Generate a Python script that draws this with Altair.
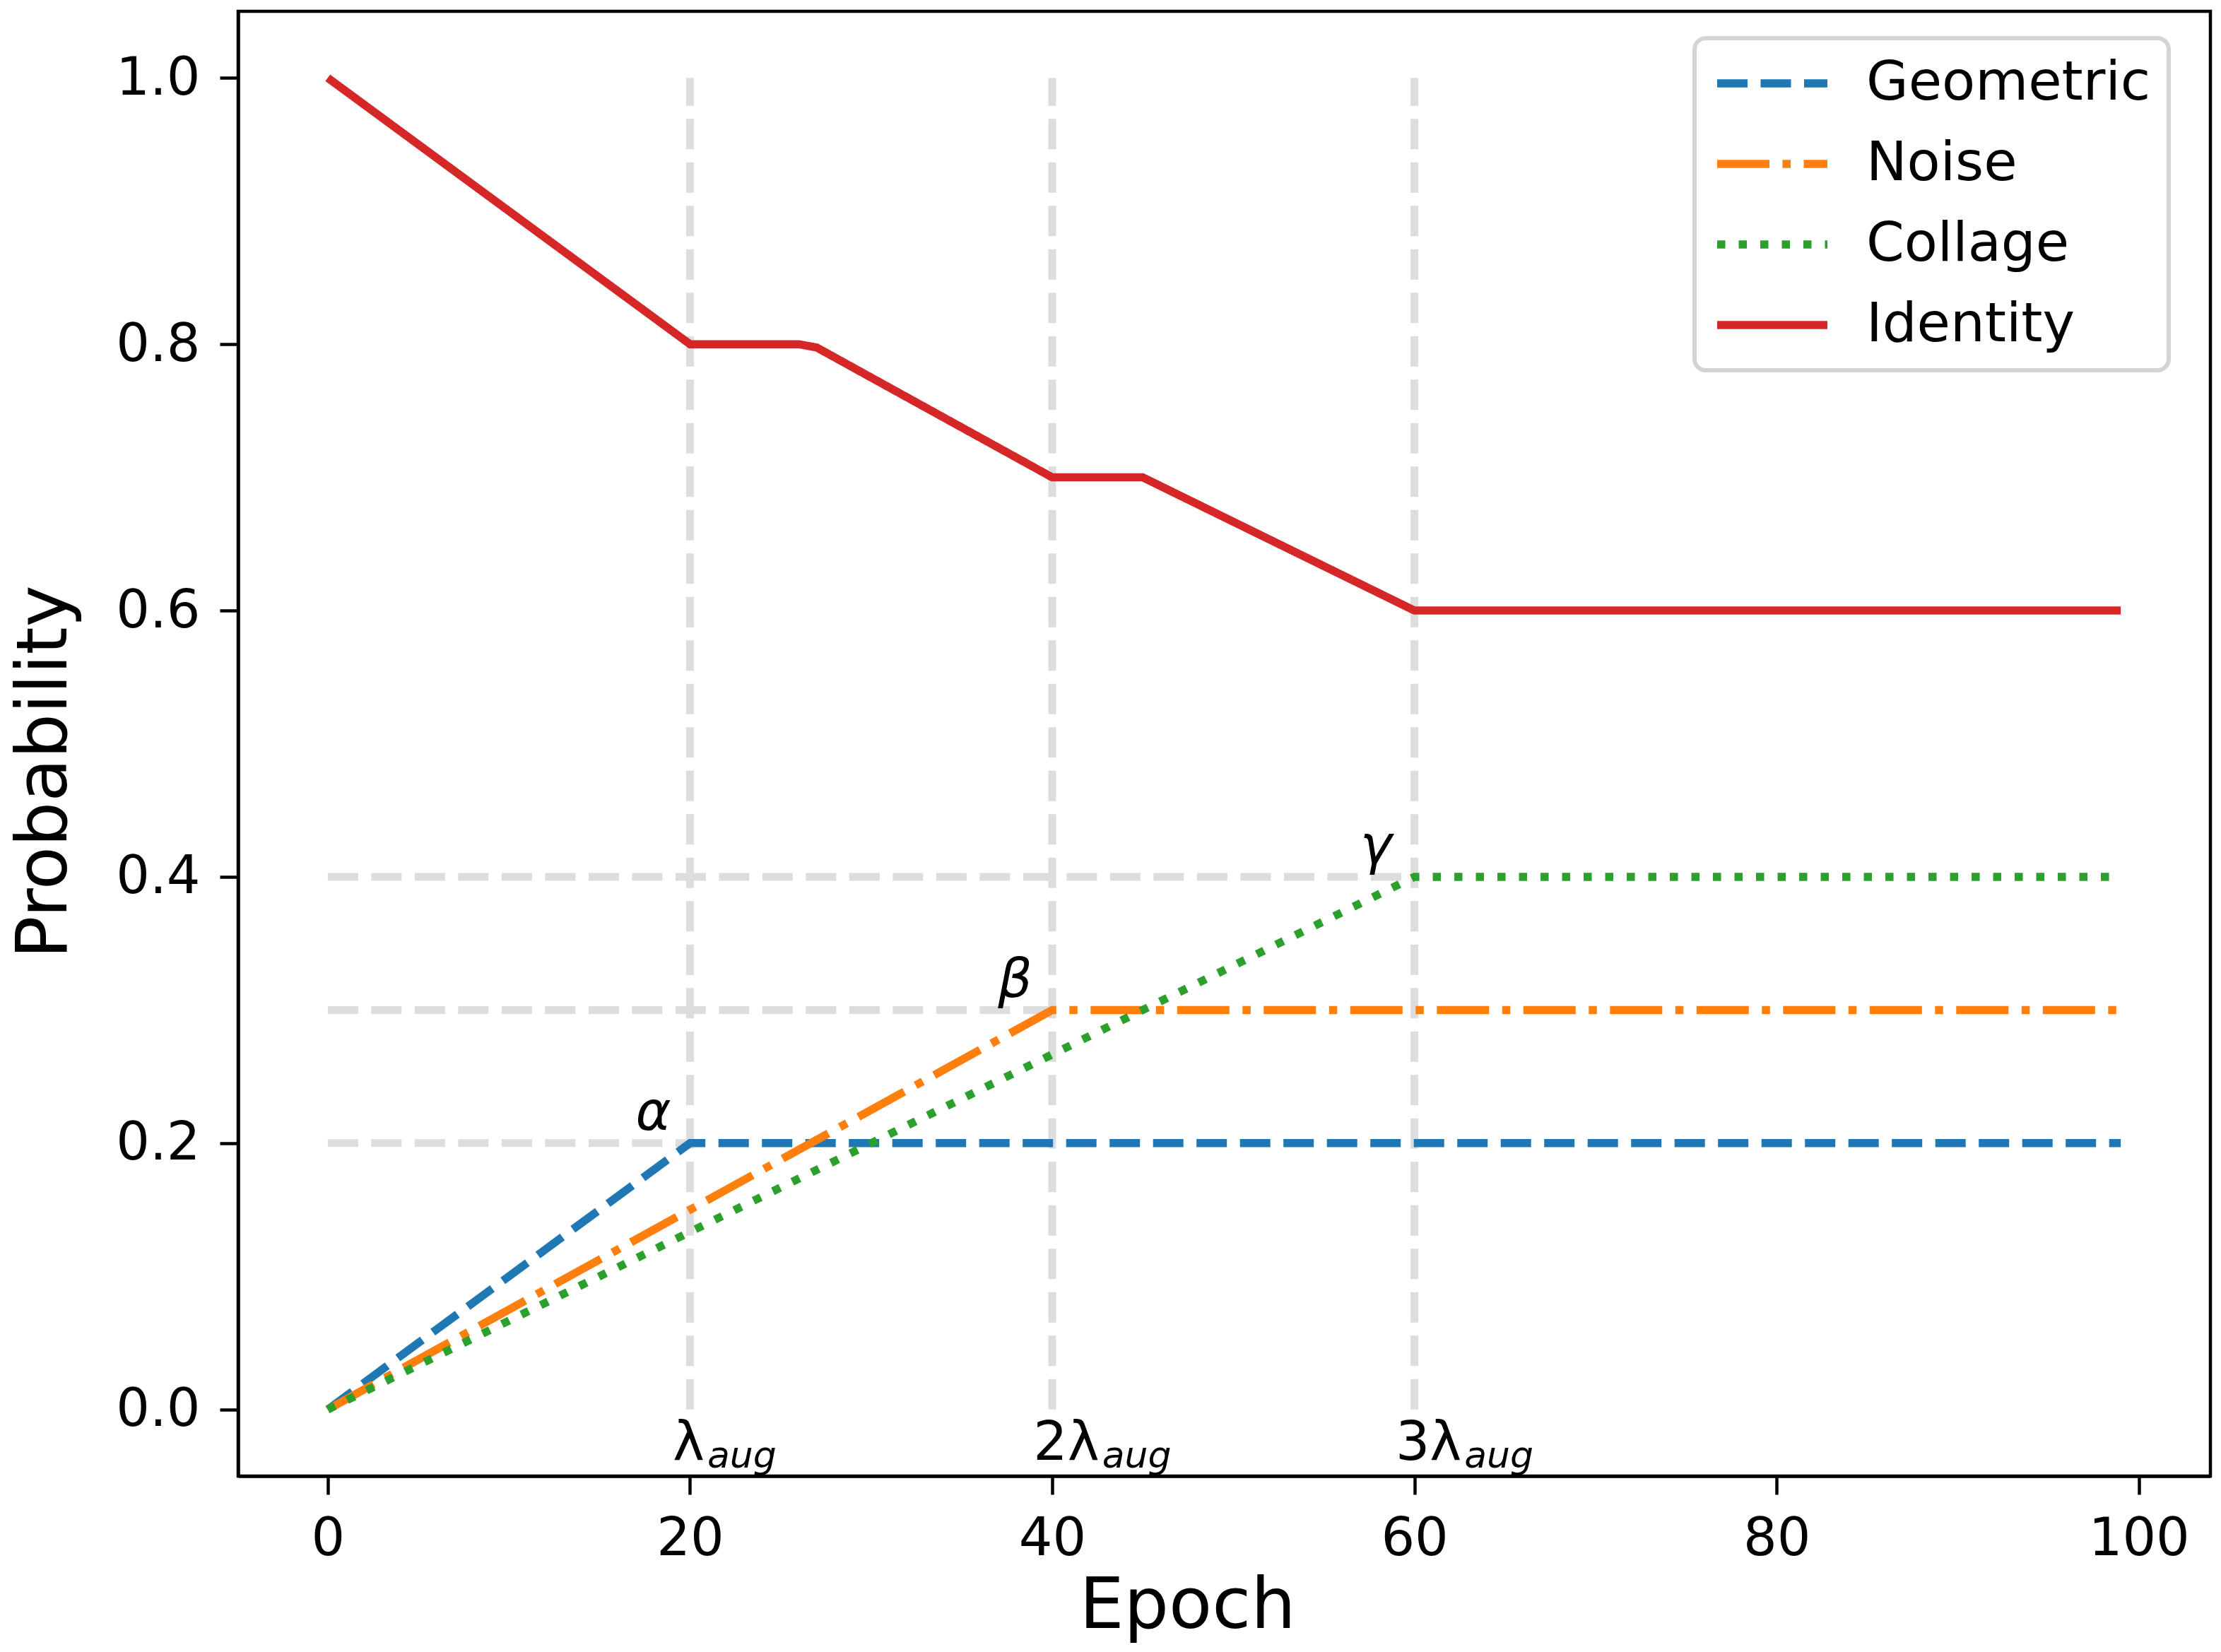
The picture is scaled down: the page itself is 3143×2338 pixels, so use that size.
import altair as alt
import pandas as pd

# ---------------- data ----------------
series_names = ["Geometric", "Noise", "Collage", "Identity"]
series_colors = ["#1f77b4", "#ff7f0e", "#2ca02c", "#d62728"]

geo_epoch = [0, 20, 99]
geo_prob = [0.0, 0.2, 0.2]
noise_epoch = [0, 40, 99]
noise_prob = [0.0, 0.3, 0.3]
collage_epoch = [0, 60, 99]
collage_prob = [0.0, 0.4, 0.4]
identity_epoch = [0, 20, 26, 27, 40, 45, 60, 99]
identity_prob = [1.0, 0.8, 0.8, 0.7975, 0.7, 0.7, 0.6, 0.6]

# light grey guide lines
h_guide_y = [0.2, 0.3, 0.4]
h_guide_x_start = [0, 0, 0]
h_guide_x_end = [20, 40, 60]
v_guide_x = [20, 40, 60]
v_guide_y_start = [0.0, 0.0, 0.0]
v_guide_y_end = [1.0, 1.0, 1.0]

# annotations
greek_labels = ["α", "β", "γ"]
greek_x = [17, 37, 57]
greek_y = [0.21, 0.31, 0.41]

lam_main = ["λ", "2λ", "3λ"]
lam_x = [20.8, 42.6, 62.6]
lam_y = [-0.038, -0.038, -0.038]
lam_sub = ["aug", "aug", "aug"]
lam_sub_y = [-0.0435, -0.0435, -0.0435]

x_ticks = [0, 20, 40, 60, 80, 100]
y_ticks = [0.0, 0.2, 0.4, 0.6, 0.8, 1.0]
x_domain = [-4.95, 103.95]
y_domain = [-0.05, 1.05]

# ---------------- tables ----------------
rows = []
for name, ep, pr in [
    ("Geometric", geo_epoch, geo_prob),
    ("Noise", noise_epoch, noise_prob),
    ("Collage", collage_epoch, collage_prob),
    ("Identity", identity_epoch, identity_prob),
]:
    for e, p in zip(ep, pr):
        rows.append({"series": name, "epoch": e, "prob": p})
df_lines = pd.DataFrame(rows)

df_h = pd.DataFrame({"y": h_guide_y, "x0": h_guide_x_start, "x1": h_guide_x_end})
df_v = pd.DataFrame({"x": v_guide_x, "y0": v_guide_y_start, "y1": v_guide_y_end})
df_greek = pd.DataFrame({"t": greek_labels, "x": greek_x, "y": greek_y})
df_lam = pd.DataFrame({"t": lam_main, "s": lam_sub, "x": lam_x, "y": lam_y, "ys": lam_sub_y})

FONT = "DejaVu Sans"
LW = 11.5
dash_patterns = [[43, 18.5], [74, 18.5, 11.5, 18.5], [11.5, 19], [1, 0]]

xscale = alt.Scale(domain=x_domain, nice=False, zero=False)
yscale = alt.Scale(domain=y_domain, nice=False, zero=False)

xaxis = alt.Axis(
    values=x_ticks, format="d", title="Epoch", grid=False,
    labelFont=FONT, labelFontSize=75, labelColor="black", labelPadding=26,
    labelFlush=False, labelOverlap=False,
    tickSize=26, tickWidth=4.5, tickColor="black",
    domainColor="black", domainWidth=4.5,
    titleFont=FONT, titleFontSize=100, titleFontWeight="normal", titleColor="black",
    titleX=1343, titleY=214, titleBaseline="alphabetic", titleAlign="center",
)
yaxis = alt.Axis(
    values=y_ticks, format=".1f", title="Probability", grid=False,
    labelFont=FONT, labelFontSize=75, labelColor="black", labelPadding=28,
    labelOverlap=False,
    tickSize=26, tickWidth=4.5, tickColor="black",
    domainColor="black", domainWidth=4.5,
    titleFont=FONT, titleFontSize=100, titleFontWeight="normal", titleColor="black",
    titleAngle=270, titleX=-244, titleY=1076, titleBaseline="alphabetic", titleAlign="center",
)

legend = alt.Legend(
    orient="none", legendX=2061, legendY=38,
    symbolType="stroke", symbolSize=156 * 156, symbolStrokeWidth=LW,
    clipHeight=78, rowPadding=36, labelOffset=49, symbolOffset=1,
    labelFont=FONT, labelFontSize=77, labelColor="black", labelLimit=2000,
    padding=25, strokeColor="#d4d4d4", fillColor="white", cornerRadius=16,
)

hguide = alt.Chart(df_h).mark_rule(color="#dddddd", strokeWidth=11, strokeDash=[43, 18.5]).encode(
    x=alt.X("x0:Q", scale=xscale, axis=xaxis),
    x2="x1:Q",
    y=alt.Y("y:Q", scale=yscale, axis=yaxis),
)
vguide = alt.Chart(df_v).mark_rule(color="#dddddd", strokeWidth=11, strokeDash=[43, 18.5]).encode(
    x=alt.X("x:Q", scale=xscale, axis=xaxis),
    y=alt.Y("y0:Q", scale=yscale, axis=yaxis),
    y2="y1:Q",
)

lines = alt.Chart(df_lines).mark_line(strokeWidth=LW).encode(
    x=alt.X("epoch:Q", scale=xscale, axis=xaxis),
    y=alt.Y("prob:Q", scale=yscale, axis=yaxis),
    color=alt.Color("series:N", scale=alt.Scale(domain=series_names, range=series_colors),
                    legend=legend, title=None),
    strokeDash=alt.StrokeDash("series:N", scale=alt.Scale(domain=series_names, range=dash_patterns),
                              legend=legend, title=None),
)

greek = alt.Chart(df_greek).mark_text(
    font=FONT, fontSize=76, fontStyle="italic", align="left", baseline="alphabetic", color="black"
).encode(
    x=alt.X("x:Q", scale=xscale, axis=xaxis),
    y=alt.Y("y:Q", scale=yscale, axis=yaxis),
    text="t:N",
)

lam = alt.Chart(df_lam).mark_text(
    font=FONT, fontSize=76, align="right", baseline="alphabetic", color="black"
).encode(
    x=alt.X("x:Q", scale=xscale, axis=xaxis),
    y=alt.Y("y:Q", scale=yscale, axis=yaxis),
    text="t:N",
)

lam_s = alt.Chart(df_lam).mark_text(
    font=FONT, fontSize=52, fontStyle="italic", align="left", baseline="alphabetic", color="black", dx=4
).encode(
    x=alt.X("x:Q", scale=xscale, axis=xaxis),
    y=alt.Y("ys:Q", scale=yscale, axis=yaxis),
    text="s:N",
)

chart = alt.layer(hguide, vguide, lines, greek, lam, lam_s).properties(
    width=2791, height=2073,
    autosize=alt.AutoSizeParams(type="none"),
    padding={"left": 329, "top": 8, "right": 4, "bottom": 238},
    background="white",
).configure_view(
    stroke="black", strokeWidth=4.5
).configure_legend(
    strokeWidth=6
)

chart.save("out.html", embed_options={"renderer": "svg", "actions": False})
